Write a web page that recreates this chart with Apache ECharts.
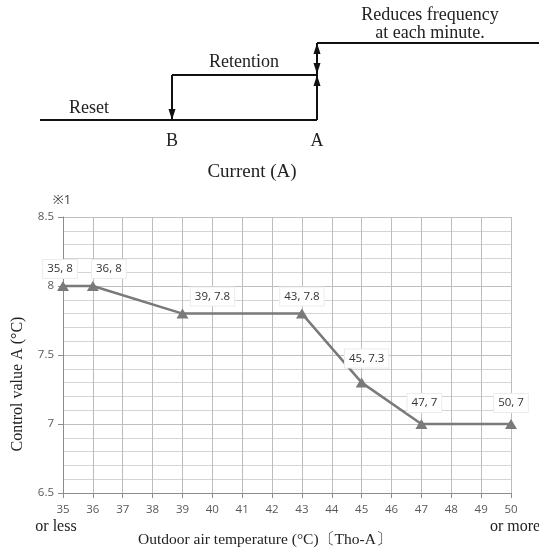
<!DOCTYPE html>
<html>
<head>
<meta charset="utf-8">
<script src="https://cdn.jsdelivr.net/npm/echarts@6/dist/echarts.min.js"></script>
<style>
  html, body { margin: 0; padding: 0; background: #fff; }
  #chart { width: 539px; height: 552px; }
</style>
</head>
<body>
<div id="chart"></div>
<script>
// outdoor air temperature (°C) vs control value A (°C)
const temps = [35, 36, 39, 43, 45, 47, 50]
const controlValues = [8, 8, 7.8, 7.8, 7.3, 7, 7]
const yTicks = [6.5, 7, 7.5, 8, 8.5]

// where each data label sits relative to its marker
const labelShift = [[-3, 2], [16, 2], [30, 2], [0, 2], [5, -5], [3, -2], [0, -2]]

const serif = '"Liberation Serif", "DejaVu Serif", serif'
const sans = '"Open Sans", "Noto Sans", sans-serif'
const ink = '#111'

function seg(x1, y1, x2, y2) {
  return { type: 'line', shape: { x1, y1, x2, y2 }, style: { stroke: ink, lineWidth: 2 } }
}
function head(x, y, dir) {
  // dir: 1 points down, -1 points up
  return {
    type: 'polygon',
    shape: { points: [[x - 3.5, y - dir * 11], [x + 3.5, y - dir * 11], [x, y]] },
    style: { fill: ink }
  }
}
function txt(x, y, text, opts) {
  return {
    type: 'text', x, y,
    style: Object.assign({ text, font: '18px ' + serif, fill: '#222', align: 'center', verticalAlign: 'middle' }, opts || {})
  }
}

const chart = echarts.init(document.getElementById('chart'))

chart.setOption({
  backgroundColor: '#fff',
  animation: false,
  grid: { left: 63, right: 28, top: 217, bottom: 59 },
  xAxis: {
    type: 'value',
    min: 35, max: 50, interval: 1,
    axisLine: { lineStyle: { color: '#8c8c8c', width: 1 } },
    axisTick: { show: true, length: 5, lineStyle: { color: '#8c8c8c' } },
    axisLabel: { color: '#595959', fontFamily: sans, fontSize: 11.5, margin: 11 },
    splitLine: { show: true, lineStyle: { color: '#bdbdbd', width: 1 } }
  },
  yAxis: {
    type: 'value',
    min: yTicks[0], max: yTicks[yTicks.length - 1], interval: 0.5,
    axisLine: { show: true, lineStyle: { color: '#8c8c8c', width: 1 } },
    axisTick: { show: true, length: 5, lineStyle: { color: '#8c8c8c' } },
    axisLabel: { color: '#595959', fontFamily: sans, fontSize: 11.5, margin: 9 },
    splitLine: { show: true, lineStyle: { color: '#bdbdbd', width: 1 } },
    minorTick: { show: false, splitNumber: 5 },
    minorSplitLine: { show: true, lineStyle: { color: '#d4d4d4', width: 1 } }
  },
  series: [{
    type: 'line',
    data: temps.map((t, i) => ({
      value: [t, controlValues[i]],
      label: { offset: labelShift[i] }
    })),
    symbol: 'triangle',
    symbolSize: [12, 10],
    lineStyle: { color: '#7a7a7a', width: 2.5 },
    itemStyle: { color: '#7a7a7a' },
    label: {
      show: true,
      position: 'top',
      distance: 5,
      formatter: p => p.value[0] + ', ' + p.value[1],
      color: '#333',
      fontFamily: sans,
      fontSize: 11.5,
      backgroundColor: '#fff',
      borderColor: '#ececec',
      borderWidth: 1,
      padding: [3, 4]
    }
  }],
  graphic: [
    // control diagram
    seg(40, 120, 317, 120),
    seg(172, 75, 317, 75),
    seg(172, 75, 172, 120),
    seg(317, 75, 317, 120),
    seg(317, 43, 317, 75),
    seg(317, 43, 539, 43),
    head(172, 120, 1),
    head(317, 75, -1),
    head(317, 43, -1),
    head(317, 74, 1),
    txt(89, 108, 'Reset'),
    txt(244, 62, 'Retention'),
    txt(172, 141, 'B'),
    txt(317, 141, 'A'),
    txt(430, 15, 'Reduces frequency'),
    txt(430, 33, 'at each minute.'),
    txt(252, 172, 'Current (A)', { font: '19px ' + serif }),
    // chart annotations
    txt(62, 200, '※1', { font: '13px ' + sans, fill: '#404040' }),
    txt(56, 527, 'or less', { font: '16px ' + serif }),
    txt(490, 527, 'or more', { align: 'left', font: '16px ' + serif }),
    txt(265, 540, 'Outdoor air temperature (°C)〔Tho-A〕', { font: '15.5px ' + serif }),
    {
      type: 'text', x: 18, y: 384, rotation: Math.PI / 2,
      style: { text: 'Control value A (°C)', font: '16px ' + serif, fill: '#222', align: 'center', verticalAlign: 'middle' }
    }
  ]
})

window.addEventListener('resize', () => chart.resize())
</script>
</body>
</html>
